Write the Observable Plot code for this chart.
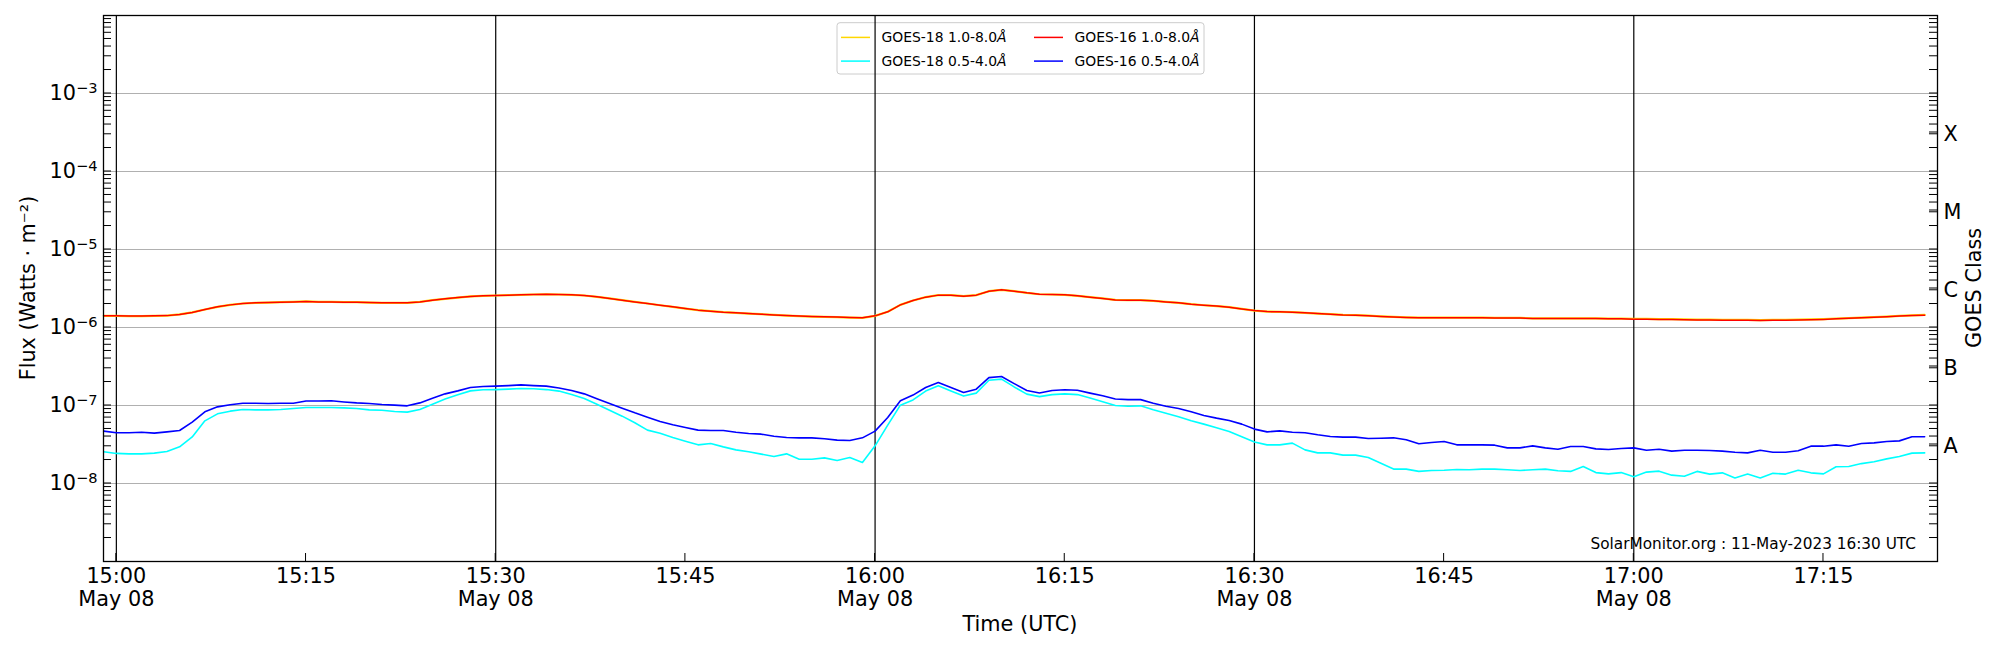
<!DOCTYPE html>
<html>
<head>
<meta charset="utf-8">
<script src="https://cdn.jsdelivr.net/npm/d3@7"></script>
<script src="https://cdn.jsdelivr.net/npm/@observablehq/plot@0.6"></script>
<style>
  html, body { margin: 0; padding: 0; background: #ffffff; }
  #chart svg { display: block; }
</style>
</head>
<body>
<div id="chart"></div>
<script>
// ---------------- data (1-minute cadence, first sample 14:59 UTC) ----------------
const startTime = "2023-05-08T14:59:00Z";
const dateLabel = "May 08";

// GOES-16 1.0-8.0 Å, units of 1e-6 W/m^2
const goes16Long = [
  1.41,1.41,1.40,1.40,1.41,1.42,1.47,1.56,1.70,1.84,
  1.95,2.03,2.07,2.09,2.11,2.13,2.16,2.13,2.13,2.11,
  2.11,2.09,2.07,2.07,2.07,2.13,2.24,2.33,2.42,2.50,
  2.55,2.57,2.60,2.62,2.65,2.67,2.65,2.62,2.57,2.47,
  2.36,2.24,2.13,2.03,1.93,1.84,1.75,1.67,1.62,1.57,
  1.54,1.51,1.48,1.45,1.42,1.40,1.38,1.37,1.36,1.34,
  1.33,1.41,1.59,1.95,2.22,2.45,2.60,2.60,2.52,2.60,
  2.92,3.04,2.92,2.78,2.67,2.65,2.62,2.55,2.45,2.36,
  2.26,2.24,2.24,2.20,2.13,2.07,1.99,1.93,1.88,1.82,
  1.73,1.65,1.60,1.59,1.57,1.54,1.51,1.48,1.45,1.44,
  1.41,1.38,1.36,1.34,1.33,1.33,1.33,1.33,1.33,1.33,
  1.32,1.32,1.32,1.30,1.30,1.30,1.30,1.30,1.30,1.29,
  1.29,1.28,1.28,1.27,1.27,1.26,1.25,1.25,1.24,1.24,
  1.24,1.23,1.24,1.24,1.25,1.26,1.27,1.29,1.31,1.33,
  1.35,1.37,1.40,1.42,1.44
];

// GOES-18 1.0-8.0 Å, units of 1e-6 W/m^2 (almost hidden beneath GOES-16)
const goes18Long = [
  1.41,1.41,1.40,1.40,1.41,1.42,1.47,1.56,1.70,1.84,
  1.95,2.03,2.07,2.09,2.11,2.13,2.16,2.13,2.13,2.11,
  2.11,2.09,2.07,2.07,2.07,2.13,2.24,2.33,2.42,2.50,
  2.55,2.57,2.60,2.62,2.65,2.67,2.65,2.62,2.57,2.47,
  2.36,2.24,2.13,2.03,1.93,1.84,1.75,1.67,1.62,1.57,
  1.54,1.51,1.48,1.45,1.42,1.40,1.38,1.37,1.36,1.34,
  1.33,1.41,1.59,1.95,2.22,2.45,2.60,2.60,2.52,2.60,
  2.92,3.04,2.92,2.78,2.67,2.65,2.62,2.55,2.45,2.36,
  2.26,2.24,2.24,2.20,2.13,2.07,1.99,1.93,1.88,1.82,
  1.73,1.65,1.60,1.59,1.57,1.54,1.51,1.48,1.45,1.44,
  1.42,1.39,1.37,1.35,1.34,1.34,1.34,1.34,1.34,1.34,
  1.33,1.33,1.33,1.31,1.31,1.31,1.31,1.31,1.31,1.30,
  1.30,1.29,1.29,1.28,1.28,1.27,1.26,1.26,1.25,1.25,
  1.25,1.24,1.25,1.25,1.26,1.27,1.28,1.30,1.32,1.34,
  1.36,1.38,1.41,1.43,1.45
];

// GOES-16 0.5-4.0 Å, units of 1e-8 W/m^2
const goes16Short = [
  4.69,4.47,4.47,4.55,4.42,4.59,4.78,6.11,8.30,9.61,
  10.2,10.7,10.7,10.6,10.7,10.7,11.4,11.4,11.5,11.1,
  10.8,10.6,10.3,10.1,9.9,10.8,12.4,14.1,15.4,17.0,
  17.5,17.7,18.0,18.4,18.0,17.7,16.8,15.6,14.1,12.2,
  10.6,9.24,8.05,7.08,6.24,5.65,5.22,4.83,4.78,4.78,
  4.55,4.37,4.29,4.04,3.89,3.85,3.85,3.74,3.60,3.56,
  3.85,4.69,7.02,11.5,13.6,17.0,19.7,17.0,14.7,16.2,
  22.8,23.5,19.1,15.6,14.5,15.6,15.9,15.7,14.4,13.3,
  12.1,11.9,11.9,10.7,9.80,9.16,8.30,7.45,6.89,6.43,
  5.77,4.98,4.59,4.73,4.55,4.47,4.21,4.01,3.93,3.93,
  3.78,3.81,3.85,3.63,3.23,3.36,3.45,3.13,3.13,3.13,
  3.10,2.86,2.86,3.04,2.86,2.75,2.98,2.98,2.78,2.73,
  2.81,2.86,2.67,2.75,2.60,2.67,2.67,2.65,2.60,2.52,
  2.47,2.67,2.52,2.52,2.63,3.01,3.01,3.13,3.01,3.26,
  3.32,3.45,3.52,3.97,3.97
];

// GOES-18 0.5-4.0 Å, units of 1e-8 W/m^2
const goes18Short = [
  2.55,2.43,2.40,2.40,2.45,2.57,2.95,3.96,6.36,7.82,
  8.46,8.89,8.80,8.80,8.89,9.15,9.42,9.42,9.42,9.33,
  9.15,8.80,8.71,8.38,8.22,8.89,10.4,12.1,13.7,15.4,
  15.9,16.0,16.2,16.5,16.4,16.0,15.3,13.8,12.3,10.4,
  8.71,7.30,6.00,4.83,4.42,3.89,3.49,3.13,3.26,2.95,
  2.70,2.55,2.38,2.22,2.40,2.05,2.05,2.13,1.97,2.15,
  1.86,3.04,5.60,10.1,11.8,15.3,17.9,15.3,13.2,14.4,
  21.1,21.8,17.3,14.0,13.0,13.8,14.1,13.8,12.5,11.2,
  10.0,9.80,9.90,8.80,7.97,7.16,6.36,5.77,5.18,4.65,
  3.97,3.40,3.13,3.13,3.29,2.70,2.47,2.47,2.31,2.31,
  2.16,1.82,1.53,1.53,1.43,1.47,1.48,1.51,1.50,1.53,
  1.53,1.50,1.47,1.50,1.53,1.46,1.43,1.65,1.38,1.33,
  1.38,1.22,1.40,1.44,1.28,1.24,1.43,1.32,1.37,1.18,
  1.32,1.18,1.35,1.32,1.48,1.37,1.33,1.64,1.65,1.80,
  1.90,2.07,2.22,2.45,2.47
];

const seriesNames  = ["GOES-18 1.0-8.0", "GOES-18 0.5-4.0", "GOES-16 1.0-8.0", "GOES-16 0.5-4.0"];
const seriesColors = ["#ffd700", "#00ffff", "#ff0000", "#0000ff"];

const timeTicks     = ["15:00","15:15","15:30","15:45","16:00","16:15","16:30","16:45","17:00","17:15"];
const halfHourLines = ["15:00","15:30","16:00","16:30","17:00"];
const decadeExponents = [-8, -7, -6, -5, -4, -3];
const classLabels    = ["A", "B", "C", "M", "X"];
const classExponents = [-7.5, -6.5, -5.5, -4.5, -3.5];

const yLabel = "Flux (Watts · m⁻²)";
const xLabel = "Time (UTC)";
const rightLabel = "GOES Class";
const credit = "SolarMonitor.org : 11-May-2023 16:30 UTC";

// ---------------- layout ----------------
const W = 2000, H = 650;
const mL = 103, mR = 63, mT = 15, mB = 89;
const plotW = W - mL - mR, plotH = H - mT - mB;
const FONT = "'DejaVu Sans', 'Liberation Sans', sans-serif";
const TICK = 8;

// ---------------- build tables ----------------
const t0 = new Date(startTime);
const times = goes16Long.map((_, i) => new Date(+t0 + i * 60000));
function table(values, unit) {
  return values.map((v, i) => ({time: times[i], flux: v * unit}));
}
const dataG18L = table(goes18Long, 1e-6);
const dataG18S = table(goes18Short, 1e-8);
const dataG16L = table(goes16Long, 1e-6);
const dataG16S = table(goes16Short, 1e-8);

const toDate = hm => new Date(`2023-05-08T${hm}:00Z`);
const tickDates = timeTicks.map(toDate);
const lineDates = halfHourLines.map(toDate);
const decades = decadeExponents.map(e => Math.pow(10, e));
const classes = classExponents.map((e, i) => ({level: Math.pow(10, e), label: classLabels[i]}));

// log minor ticks (k x 10^n) within the domain
const logTicks = [];
for (let e = -9; e <= -3; e++) for (let k = 1; k <= 9; k++) {
  const v = k * Math.pow(10, e);
  if (v > 1e-9 && v < 1e-2) logTicks.push(v);
}

const fmtHM = d3.utcFormat("%H:%M");

const chart = Plot.plot({
  width: W,
  height: H,
  marginLeft: mL,
  marginRight: mR,
  marginTop: mT,
  marginBottom: mB,
  style: {fontFamily: FONT, fontSize: "20.8px", color: "black", background: "white", overflow: "visible"},
  x: {type: "utc", domain: [new Date("2023-05-08T14:58:59Z"), new Date("2023-05-08T17:24:01Z")]},
  y: {type: "log", domain: [1e-9, 1e-2]},
  marks: [
    Plot.gridY(decades, {stroke: "#b0b0b0", strokeOpacity: 1, strokeWidth: 1}),
    Plot.ruleX(lineDates, {stroke: "black", strokeWidth: 1.2}),
    Plot.line(dataG18L, {x: "time", y: "flux", stroke: seriesColors[0], strokeWidth: 2.2}),
    Plot.line(dataG18S, {x: "time", y: "flux", stroke: seriesColors[1], strokeWidth: 1.6}),
    Plot.line(dataG16L, {x: "time", y: "flux", stroke: seriesColors[2], strokeWidth: 1.5}),
    Plot.line(dataG16S, {x: "time", y: "flux", stroke: seriesColors[3], strokeWidth: 1.6}),
    Plot.axisX(tickDates, {
      anchor: "bottom", tickSize: 0, tickPadding: 5.5, label: null, lineHeight: 1.1,
      fontSize: 20.8,
      tickFormat: d => d.getUTCMinutes() % 30 === 0 ? fmtHM(d) + "\n" + dateLabel : fmtHM(d)
    }),
    Plot.axisY(decades, {
      anchor: "left", tickSize: 0, tickPadding: 6, label: null, fontSize: 20.8,
      tickFormat: d => "10^" + Math.round(Math.log10(d))
    }),
    Plot.text(classes, {
      y: "level", text: "label", frameAnchor: "right", textAnchor: "start", dx: 6, dy: 2,
      fontSize: 20.8, fill: "black"
    }),
    Plot.frame({stroke: "black", strokeWidth: 1.3})
  ]
});

document.getElementById("chart").appendChild(chart);
const svg = d3.select(chart);
const xs = chart.scale("x"), ys = chart.scale("y");

// superscript exponents on the flux tick labels
svg.selectAll("text").each(function () {
  const s = this.textContent;
  if (/^10\^-?\d+$/.test(s)) {
    const [base, exp] = s.split("^");
    const t = d3.select(this);
    t.text(base);
    t.append("tspan")
      .attr("dy", "-7.3")
      .attr("style", "font-size:14.6px")
      .text(exp.replace("-", "\u2212"));
  }
});

// inward tick marks positioned through Plot's scales
const ticksG = svg.append("g").attr("stroke", "black").attr("stroke-width", 1);
const xL = mL, xR = W - mR, yB = H - mB;
logTicks.forEach(v => {
  const y = ys.apply(v);
  ticksG.append("line").attr("x1", xL).attr("x2", xL + TICK).attr("y1", y).attr("y2", y);
  ticksG.append("line").attr("x1", xR).attr("x2", xR - TICK).attr("y1", y).attr("y2", y);
});
classes.forEach(c => {
  const y = ys.apply(c.level);
  ticksG.append("line").attr("x1", xR).attr("x2", xR - TICK).attr("y1", y).attr("y2", y);
});
tickDates.forEach(d => {
  const x = xs.apply(d);
  ticksG.append("line").attr("x1", x).attr("x2", x).attr("y1", yB).attr("y2", yB - TICK);
});

// axis titles
svg.append("text")
  .attr("transform", `translate(35,${mT + plotH / 2}) rotate(-90)`)
  .attr("text-anchor", "middle").attr("font-family", FONT).attr("font-size", 20.8)
  .attr("fill", "black").text(yLabel);
svg.append("text")
  .attr("x", mL + plotW / 2).attr("y", 630.6)
  .attr("text-anchor", "middle").attr("font-family", FONT).attr("font-size", 20.8)
  .attr("fill", "black").text(xLabel);
svg.append("text")
  .attr("transform", `translate(1981,${mT + plotH / 2}) rotate(-90)`)
  .attr("text-anchor", "middle").attr("font-family", FONT).attr("font-size", 20.8)
  .attr("fill", "black").text(rightLabel);

// credit
svg.append("text")
  .attr("x", W - mR - 21).attr("y", 549)
  .attr("text-anchor", "end").attr("font-family", FONT).attr("font-size", 15.3)
  .attr("fill", "black").text(credit);

// legend (inserted beneath the black half-hour lines)
const firstRule = chart.querySelector("g[aria-label='rule']");
const legendNode = document.createElementNS("http://www.w3.org/2000/svg", "g");
if (firstRule) chart.insertBefore(legendNode, firstRule); else chart.appendChild(legendNode);
const legend = d3.select(legendNode);
legend.append("rect")
  .attr("x", 837).attr("y", 22.7).attr("width", 367).attr("height", 51.3)
  .attr("rx", 3).attr("ry", 3)
  .attr("fill", "white").attr("fill-opacity", 0.8)
  .attr("stroke", "#cccccc").attr("stroke-width", 1);
const colX = [841, 1034];
const rowY = [37.4, 61.1];
seriesNames.forEach((name, i) => {
  const cx = colX[Math.floor(i / 2)], cy = rowY[i % 2];
  legend.append("line")
    .attr("x1", cx).attr("x2", cx + 29).attr("y1", cy).attr("y2", cy)
    .attr("stroke", seriesColors[i]).attr("stroke-width", 1.5);
  const t = legend.append("text")
    .attr("x", cx + 40.5).attr("y", cy).attr("dy", "0.36em")
    .attr("text-anchor", "start")
    .attr("font-family", FONT).attr("font-size", 13.9).attr("fill", "black")
    .text(name);
  t.append("tspan").attr("font-style", "italic").text("Å");
});
</script>
</body>
</html>
